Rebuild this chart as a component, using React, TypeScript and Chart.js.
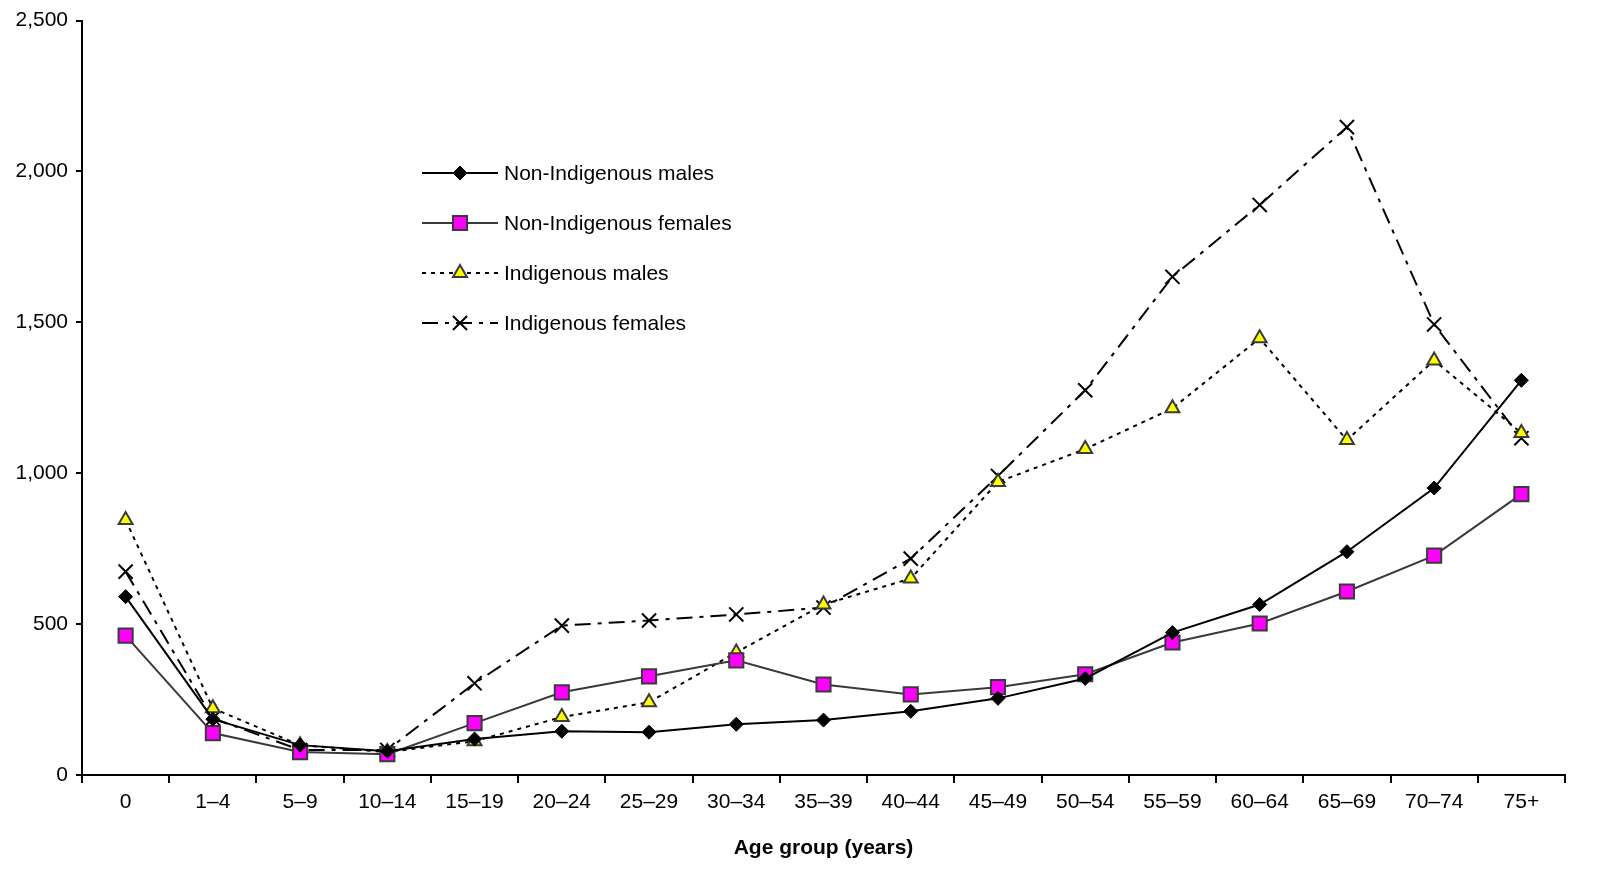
import React, { useEffect, useRef } from "react";
import { Chart, registerables } from "chart.js";

Chart.register(...registerables);

const categories = ["0", "1–4", "5–9", "10–14", "15–19", "20–24", "25–29", "30–34", "35–39", "40–44", "45–49", "50–54", "55–59", "60–64", "65–69", "70–74", "75+"];
const nonIndigMales = [591, 185, 99, 79, 119, 145, 142, 168, 182, 211, 254, 320, 472, 565, 740, 951, 1308];
const nonIndigFemales = [462, 139, 76, 69, 172, 274, 327, 380, 300, 267, 291, 334, 439, 502, 608, 727, 931];
const indigMales = [845, 221, 99, 76, 112, 192, 241, 406, 565, 651, 971, 1080, 1215, 1447, 1110, 1374, 1133];
const indigFemales = [674, 188, 83, 83, 304, 495, 512, 532, 555, 717, 991, 1275, 1651, 1889, 2147, 1493, 1116];
const yTicks = [0, 500, 1000, 1500, 2000, 2500];
const seriesNames = ["Non-Indigenous males", "Non-Indigenous females", "Indigenous males", "Indigenous females"];

const FONT = "'Liberation Sans', Arial, sans-serif";
const FS = 21;

function drawMarker(ctx: CanvasRenderingContext2D, style: string, x: number, y: number, r: number, fill: string, stroke: string, lw: number) {
  ctx.save();
  ctx.setLineDash([]);
  ctx.beginPath();
  if (style === "rectRot") {
    ctx.moveTo(x, y - r); ctx.lineTo(x + r, y); ctx.lineTo(x, y + r); ctx.lineTo(x - r, y); ctx.closePath();
  } else if (style === "rect") {
    const s = Math.SQRT1_2 * r;
    ctx.rect(x - s, y - s, 2 * s, 2 * s);
  } else if (style === "triangle") {
    const a = -Math.PI / 2;
    for (let i = 0; i < 3; i++) {
      const ang = a + (i * 2 * Math.PI) / 3;
      const px = x + Math.cos(ang) * r, py = y + Math.sin(ang) * r;
      if (i === 0) ctx.moveTo(px, py); else ctx.lineTo(px, py);
    }
    ctx.closePath();
  } else if (style === "crossRot") {
    const d = Math.SQRT1_2 * r;
    ctx.moveTo(x - d, y - d); ctx.lineTo(x + d, y + d);
    ctx.moveTo(x + d, y - d); ctx.lineTo(x - d, y + d);
  }
  if (style !== "crossRot") { ctx.fillStyle = fill; ctx.fill(); }
  ctx.strokeStyle = stroke; ctx.lineWidth = lw; ctx.stroke();
  ctx.restore();
}

const legendPlugin = {
  id: "customLegend",
  afterDraw(chart: any) {
    const ctx = chart.ctx as CanvasRenderingContext2D;
    const x0 = 422, x1 = 498, xm = 460, xt = 504;
    const ys = [173, 223, 273, 323];
    chart.data.datasets.forEach((ds: any, i: number) => {
      const y = ys[i];
      ctx.save();
      ctx.strokeStyle = ds.borderColor;
      ctx.lineWidth = ds.borderWidth;
      ctx.setLineDash(ds.borderDash || []);
      ctx.beginPath(); ctx.moveTo(x0, y); ctx.lineTo(x1, y); ctx.stroke();
      ctx.restore();
      drawMarker(ctx, ds.pointStyle, xm, y, ds.pointRadius, ds.pointBackgroundColor, ds.pointBorderColor, ds.pointBorderWidth);
      ctx.save();
      ctx.fillStyle = "#000";
      ctx.font = `${FS}px ${FONT}`;
      ctx.textBaseline = "middle";
      ctx.textAlign = "left";
      ctx.fillText(ds.label, xt, y + 1);
      ctx.restore();
    });
  },
};

export default function App() {
  const ref = useRef<HTMLCanvasElement>(null);
  useEffect(() => {
    if (!ref.current) return;
    const chart = new Chart(ref.current, {
      type: "line",
      data: {
        labels: categories,
        datasets: [
          {
            label: seriesNames[0], data: nonIndigMales,
            borderColor: "#000", borderWidth: 2, borderDash: [],
            pointStyle: "rectRot", pointRadius: 7, pointBackgroundColor: "#000", pointBorderColor: "#000", pointBorderWidth: 1,
          },
          {
            label: seriesNames[1], data: nonIndigFemales,
            borderColor: "#3a3a3a", borderWidth: 2, borderDash: [],
            pointStyle: "rect", pointRadius: 10, pointBackgroundColor: "#ff00ff", pointBorderColor: "#3a3a3a", pointBorderWidth: 2,
          },
          {
            label: seriesNames[2], data: indigMales,
            borderColor: "#000", borderWidth: 2, borderDash: [4, 5],
            pointStyle: "triangle", pointRadius: 8, pointBackgroundColor: "#ffff00", pointBorderColor: "#3a3a3a", pointBorderWidth: 2,
          },
          {
            label: seriesNames[3], data: indigFemales,
            borderColor: "#000", borderWidth: 2, borderDash: [16, 7, 4, 7],
            pointStyle: "crossRot", pointRadius: 10, pointBackgroundColor: "#000", pointBorderColor: "#000", pointBorderWidth: 2,
          },
        ] as any,
      },
      options: {
        animation: false,
        responsive: true,
        maintainAspectRatio: false,
        layout: { padding: { top: 18, right: 58, left: 0, bottom: 0 } },
        plugins: { legend: { display: false }, tooltip: { enabled: false } },
        elements: { line: { tension: 0 } },
        scales: {
          x: {
            offset: true,
            grid: { offset: true, drawOnChartArea: false, drawTicks: true, tickLength: 8, color: "#000", lineWidth: 2 },
            border: { display: true, color: "#000", width: 2 },
            ticks: { color: "#000", font: { family: FONT, size: FS }, padding: 7, maxRotation: 0, autoSkip: false },
            title: { display: true, text: "Age group (years)", color: "#000", font: { family: FONT, size: FS, weight: "bold" }, padding: { top: 0, bottom: 32 } },
            afterFit: (s: any) => { s.height = 118; },
          },
          y: {
            min: 0, max: 2500,
            afterBuildTicks: (s: any) => { s.ticks = yTicks.map((v) => ({ value: v })); },
            grid: { drawOnChartArea: false, drawTicks: true, tickLength: 6, color: "#000", lineWidth: 2 },
            border: { display: true, color: "#000", width: 2 },
            ticks: { color: "#000", font: { family: FONT, size: FS }, padding: 8, callback: (v: any) => Number(v).toLocaleString("en-US") },
            afterFit: (s: any) => { s.width = 82; },
          },
        },
      } as any,
      plugins: [legendPlugin],
    });
    return () => chart.destroy();
  }, []);
  return (
    <div style={{ position: "fixed", left: 0, top: 0, width: "1623px", height: "893px", background: "#fff" }}>
      <canvas ref={ref} />
    </div>
  );
}
